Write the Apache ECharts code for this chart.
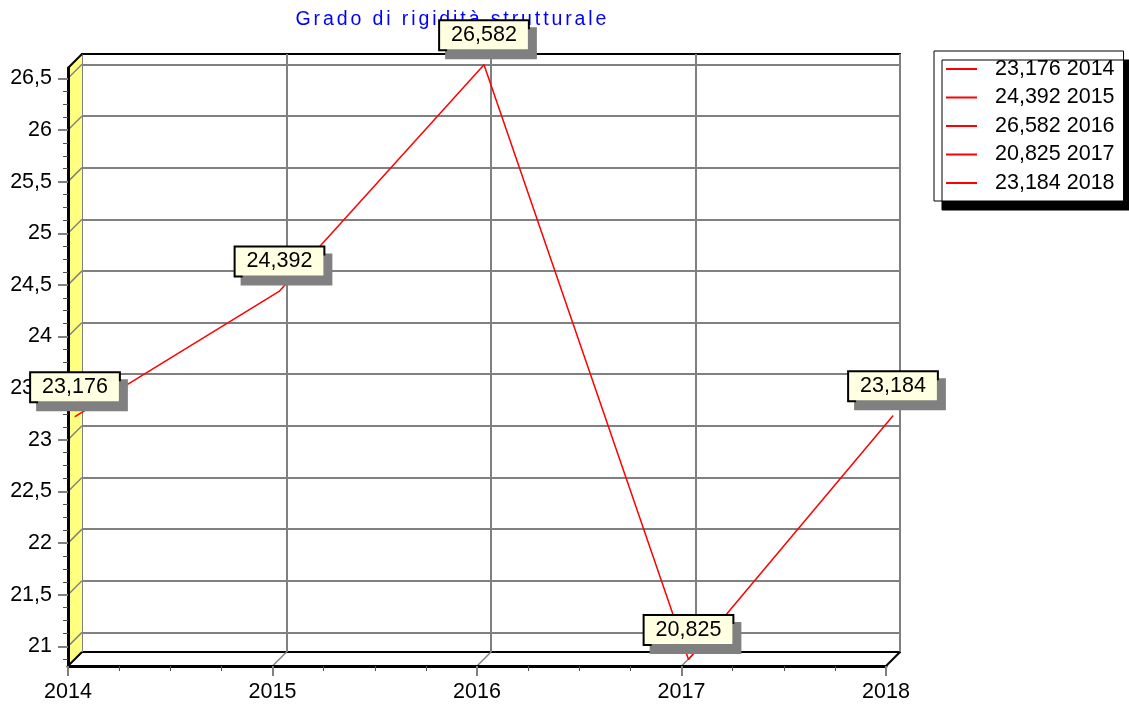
<!DOCTYPE html>
<html><head><meta charset="utf-8">
<script src="https://cdn.jsdelivr.net/npm/echarts@6/dist/echarts.min.js"></script>
<style>html,body{margin:0;padding:0;background:#fff}#c{width:1129px;height:705px}</style>
</head><body><div id="c"></div>
<script>
const chartTitle = 'Grado di rigidità strutturale';
const years = [2014, 2015, 2016, 2017, 2018];
const values = [23.176, 24.392, 26.582, 20.825, 23.184];
const legendNames = ['23,176 2014', '24,392 2015', '26,582 2016', '20,825 2017', '23,184 2018'];
const yTicks = [21, 21.5, 22, 22.5, 23, 23.5, 24, 24.5, 25, 25.5, 26, 26.5];
const yRange = [20.81, 26.6];
const xRange = [2014, 2018];

const FONT = 'Liberation Sans, Arial, sans-serif';
const FS = 21.5;
const DX = 14, DY = 14;   // front offset
const LX = 7, LY = 9;     // line plane offset
const BACK = {left: 82, top: 54, width: 818, height: 598};

const yMinor = [];
yTicks.forEach(t => [0.375, 0.25, 0.125].forEach(d => {
  const v = t - d;
  if (v > yRange[0] && yMinor.indexOf(v) < 0 && yTicks.indexOf(v) < 0) yMinor.push(v);
}));
const comma = v => String(v).replace('.', ',');
const spaced = s => s.split('').map(c => '{s|' + c + '}').join('');

const chart = echarts.init(document.getElementById('c'), null, {renderer: 'canvas'});

const hiddenAxis = (gi, range) => ({
  gridIndex: gi, type: 'value', min: range[0], max: range[1],
  axisLine: {show: false}, axisTick: {show: false}, axisLabel: {show: false}, splitLine: {show: false}
});

const legendSeries = legendNames.map(n => ({
  type: 'line', name: n, data: [], xAxisIndex: 1, yAxisIndex: 1,
  color: '#ff0000', lineStyle: {color: '#ff0000'}
}));

chart.setOption({
  animation: false,
  backgroundColor: '#ffffff',
  title: {
    text: spaced(chartTitle), left: 294, top: 10, padding: 0,
    textStyle: {
      color: '#0000ff', fontSize: 19.5, fontWeight: 'normal', fontFamily: FONT,
      rich: {s: {color: '#0000ff', fontSize: 19.5, fontFamily: FONT, padding: [0, 1.45, 0, 1.45]}}
    }
  },
  legend: {
    data: legendNames, orient: 'vertical', left: 934, top: 51,
    itemGap: 6.5, itemWidth: 31, itemHeight: 2, icon: 'rect', selectedMode: false,
    padding: [7, 9, 7, 12],
    borderColor: '#000', borderWidth: 1, backgroundColor: '#fff',
    shadowColor: '#000', shadowOffsetX: 8, shadowOffsetY: 9, shadowBlur: 0,
    textStyle: {fontSize: FS, color: '#000', fontFamily: FONT, padding: [0, 0, 0, 13]}
  },
  grid: [
    {left: BACK.left, top: BACK.top, width: BACK.width, height: BACK.height, show: true,
     borderColor: '#000', borderWidth: 2, backgroundColor: '#fff'},
    {left: BACK.left - LX, top: BACK.top + LY, width: BACK.width, height: BACK.height, show: false},
    {left: BACK.left - DX, top: BACK.top + DY, width: BACK.width, height: BACK.height, show: false}
  ],
  xAxis: [
    Object.assign(hiddenAxis(0, xRange), {interval: 1, splitLine: {show: true, lineStyle: {color: '#808080', width: 2}}}),
    hiddenAxis(1, xRange),
    {
      gridIndex: 2, type: 'value', min: xRange[0], max: xRange[1], interval: 1, z: 10,
      axisLine: {show: true, lineStyle: {color: '#000', width: 3}},
      axisTick: {show: true, length: 10, lineStyle: {color: '#808080', width: 2}},
      minorTick: {show: true, splitNumber: 4, length: 5, lineStyle: {color: '#505050', width: 1}},
      axisLabel: {show: true, margin: 15, fontSize: FS, color: '#000', fontFamily: FONT, formatter: v => String(v)},
      splitLine: {show: false}
    }
  ],
  yAxis: [
    Object.assign(hiddenAxis(0, yRange), {
      axisTick: {show: false, customValues: yTicks},
      splitLine: {show: true, lineStyle: {color: '#808080', width: 2}}
    }),
    hiddenAxis(1, yRange),
    {
      gridIndex: 2, type: 'value', position: 'left', offset: 0, min: yRange[0], max: yRange[1], z: 10,
      axisLine: {show: true, lineStyle: {color: '#000', width: 3}},
      axisTick: {show: true, length: 10, customValues: yTicks, lineStyle: {color: '#808080', width: 2}},
      axisLabel: {show: true, margin: 16, customValues: yTicks, fontSize: FS, color: '#000', fontFamily: FONT, formatter: v => comma(v)},
      splitLine: {show: false}
    },
    {
      gridIndex: 2, type: 'value', position: 'left', offset: 0, min: yRange[0], max: yRange[1], z: 10,
      axisLine: {show: false},
      axisTick: {show: true, length: 5, customValues: yMinor, lineStyle: {color: '#505050', width: 1}},
      axisLabel: {show: false},
      splitLine: {show: false}
    }
  ],
  series: [
    {
      type: 'line', name: 'values', xAxisIndex: 1, yAxisIndex: 1, z: 12, clip: false,
      data: years.map((y, i) => [y, values[i]]),
      symbol: 'circle', symbolSize: 1, showSymbol: true,
      itemStyle: {color: '#ff0000'},
      lineStyle: {color: '#ff0000', width: 1.5},
      label: {
        show: true, position: 'top', distance: 15,
        formatter: p => p.value[1].toFixed(3).replace('.', ','),
        fontSize: FS, fontFamily: FONT, color: '#000', lineHeight: 21,
        backgroundColor: '#ffffe1', borderColor: '#000', borderWidth: 2,
        padding: [3.5, 11, 3.5, 11],
        shadowColor: '#808080', shadowOffsetX: 7, shadowOffsetY: 8, shadowBlur: 0
      },
      emphasis: {disabled: true}
    }
  ].concat(legendSeries)
});

const px = v => chart.convertToPixel({xAxisIndex: 0}, v);
const py = v => chart.convertToPixel({yAxisIndex: 0}, v);
const xL = px(xRange[0]), xR = px(xRange[1]);
const yT = py(yRange[1]), yB = py(yRange[0]);
const g = [];
g.push({type: 'polygon', z: 1, shape: {points: [[xL - DX, yT + DY], [xL, yT], [xL, yB], [xL - DX, yB + DY]]},
        style: {fill: '#ffff80', stroke: null}});
yTicks.forEach(t => {
  const y = py(t);
  g.push({type: 'line', z: 2, shape: {x1: xL - DX, y1: y + DY, x2: xL, y2: y}, style: {stroke: '#808080', lineWidth: 1.5}});
});
years.forEach((yr, i) => {
  const x = px(yr);
  const edge = (i === 0 || i === years.length - 1);
  g.push({type: 'line', z: 2, shape: {x1: x - DX, y1: yB + DY, x2: x, y2: yB},
          style: {stroke: edge ? '#000' : '#808080', lineWidth: edge ? 2 : 1.5}});
});
g.push({type: 'line', z: 2, shape: {x1: xL - DX, y1: yT + DY, x2: xL, y2: yT}, style: {stroke: '#000', lineWidth: 2}});
chart.setOption({graphic: g});
</script>
</body></html>
